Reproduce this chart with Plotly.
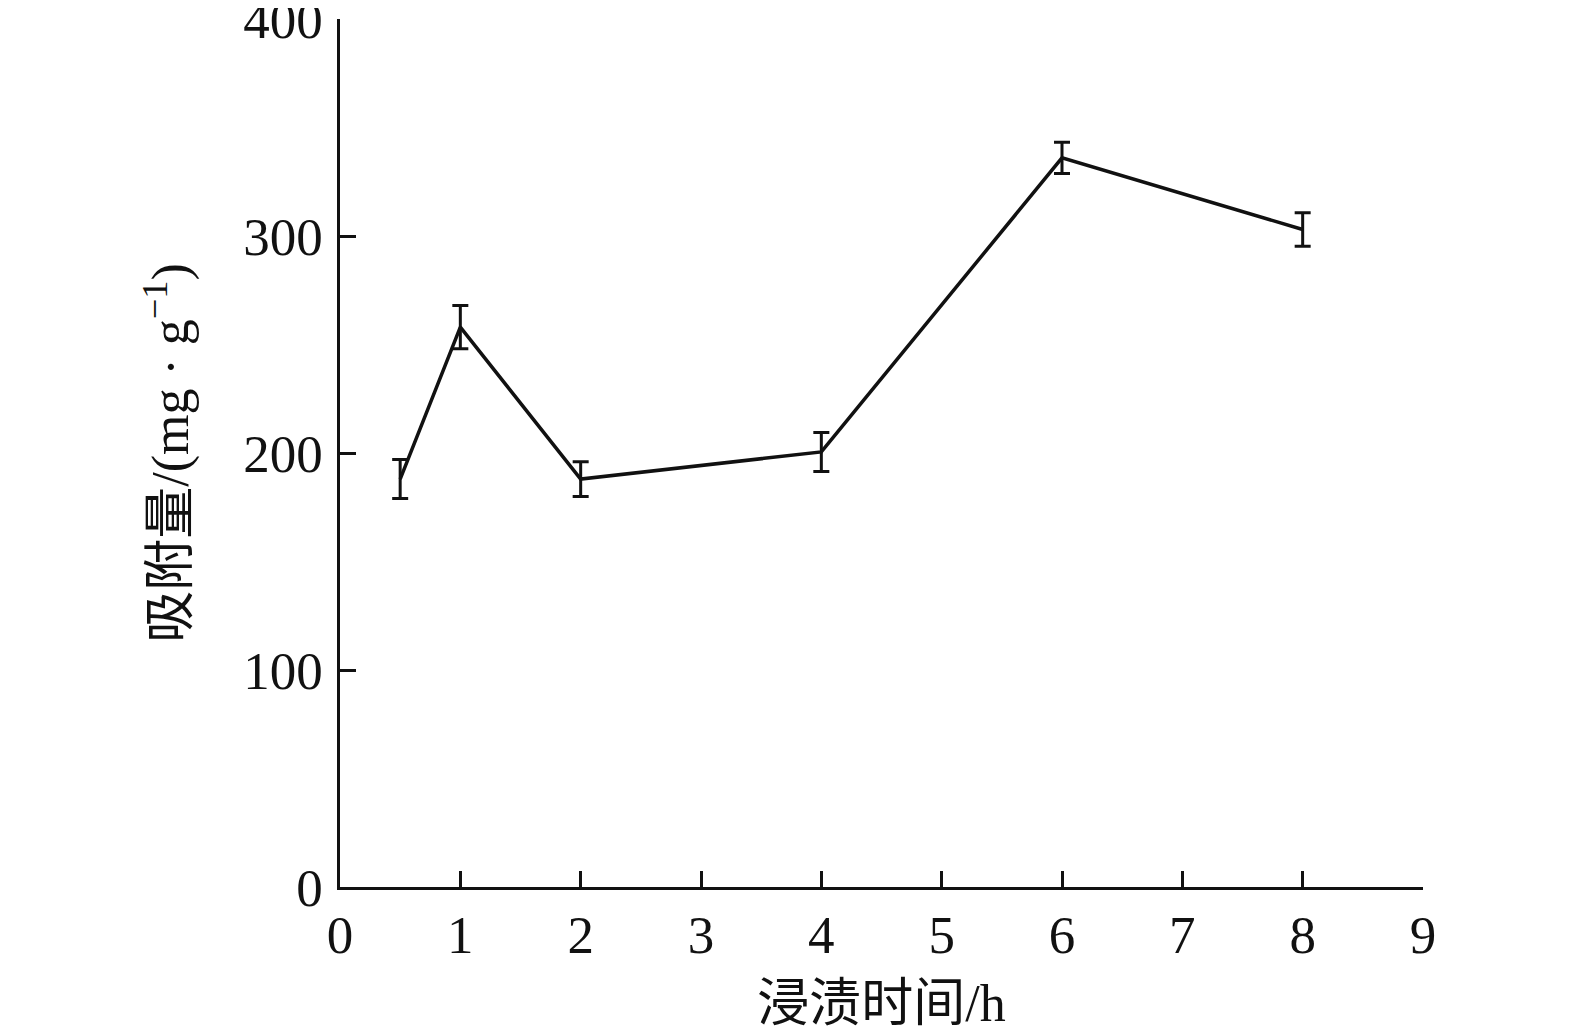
import plotly.graph_objects as go

time_h = [0.5, 1, 2, 4, 6, 8]
adsorption = [188, 258, 188, 200.5, 336, 303]
error = [9, 10, 8, 9, 7.2, 7.7]
x_ticks = list(range(0, 10))
y_ticks = [0, 100, 200, 300, 400]

font_family = "Liberation Serif, Times New Roman, Noto Sans CJK SC, serif"

fig = go.Figure()
fig.add_trace(go.Scatter(
    x=time_h, y=adsorption, mode="lines",
    line=dict(color="#111111", width=3.5),
    error_y=dict(type="data", array=error, visible=True, color="#111111", thickness=3, width=8),
    showlegend=False,
))

fig.update_layout(
    width=1575, height=1032,
    margin=dict(l=332, r=160, t=11, b=153, autoexpand=False),
    paper_bgcolor="white", plot_bgcolor="white",
    font=dict(family=font_family, size=53, color="#111111"),
)
fig.update_xaxes(
    range=[0, 9], tickvals=x_ticks, ticks="inside", ticklen=16, tickwidth=2.5,
    tickcolor="#111111", showline=True, linecolor="#111111", linewidth=2.5,
    showgrid=False, zeroline=False, ticklabelstandoff=0, automargin=False,
    ticklabeloverflow="allow",
    title=dict(text="浸渍时间/h", font=dict(size=52, family=font_family), standoff=22),
)
fig.update_yaxes(
    range=[0, 400], tickvals=y_ticks, ticks="inside", ticklen=16, tickwidth=2.5,
    tickcolor="#111111", showline=True, linecolor="#111111", linewidth=2.5,
    showgrid=False, zeroline=False, ticklabelstandoff=4, automargin=False,
    ticklabeloverflow="allow",
    title=dict(text="吸附量/(mg · g<sup>−1</sup>)", font=dict(size=52, family=font_family), standoff=38),
)

fig.write_html("out.html")
